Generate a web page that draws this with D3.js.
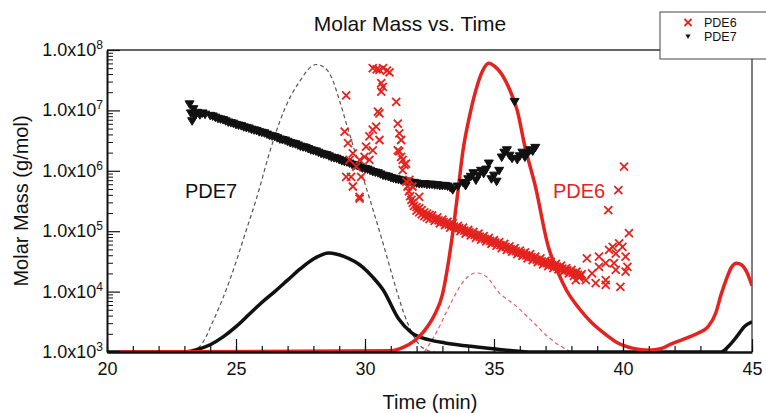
<!DOCTYPE html>
<html>
<head>
<meta charset="utf-8">
<script src="https://cdnjs.cloudflare.com/ajax/libs/d3/7.8.5/d3.min.js"></script>
<style>
	body { margin: 0; background: #fff; }
	svg { display: block; font-family: "Liberation Sans", Arial, sans-serif; }
</style>
</head>
<body>
<svg id="chart" width="766" height="413"></svg>
<script>
//=================== DATA ====================================
var timeTicks = [20, 25, 30, 35, 40, 45];
var massExponents = [3, 4, 5, 6, 7, 8];
var seriesNames = ["PDE6", "PDE7"];

// molar mass points, [time (min), log10 molar mass]
var pde7Points = [
	[23.2, 7.10], [23.25, 6.95], [23.3, 6.82], [23.35, 7.02], [23.4, 6.90], [23.5, 6.96], [23.6, 6.92],
	[23.7, 6.95], [23.8, 6.93], [24.0, 6.91], [24.1, 6.90], [24.2, 6.88], [24.3, 6.86], [24.4, 6.85],
	[24.5, 6.84], [24.6, 6.82], [24.7, 6.80], [24.8, 6.79], [24.9, 6.78], [25.0, 6.76], [25.1, 6.75],
	[25.2, 6.74], [25.3, 6.72], [25.4, 6.71], [25.5, 6.70], [25.6, 6.68], [25.7, 6.67], [25.8, 6.66],
	[25.9, 6.64], [26.0, 6.63], [26.1, 6.62], [26.2, 6.60], [26.3, 6.58], [26.4, 6.57], [26.5, 6.56],
	[26.6, 6.54], [26.7, 6.52], [26.8, 6.51], [26.9, 6.50], [27.0, 6.48], [27.1, 6.46], [27.2, 6.45],
	[27.3, 6.44], [27.4, 6.42], [27.5, 6.40], [27.6, 6.39], [27.7, 6.38], [27.8, 6.36], [27.9, 6.34],
	[28.0, 6.33], [28.1, 6.32], [28.2, 6.30], [28.3, 6.28], [28.4, 6.27], [28.5, 6.26], [28.6, 6.24],
	[28.7, 6.22], [28.8, 6.21], [28.9, 6.20], [29.0, 6.18], [29.1, 6.16], [29.2, 6.15], [29.3, 6.14],
	[29.4, 6.12], [29.5, 6.10], [29.6, 6.09], [29.7, 6.08], [29.8, 6.06], [29.9, 6.04], [30.0, 6.03],
	[30.1, 6.02], [30.2, 6.00], [30.3, 5.98], [30.4, 5.97], [30.5, 5.96], [30.6, 5.94], [30.7, 5.92],
	[30.8, 5.91], [30.9, 5.90], [31.0, 5.88], [31.1, 5.87], [31.2, 5.86], [31.3, 5.85], [31.4, 5.84],
	[31.5, 5.83], [31.6, 5.82], [31.7, 5.81], [31.8, 5.80], [31.9, 5.80], [32.0, 5.79], [32.1, 5.78],
	[32.2, 5.78], [32.3, 5.78], [32.4, 5.77], [32.5, 5.77], [32.6, 5.77], [32.7, 5.76], [32.8, 5.76],
	[32.9, 5.75], [33.0, 5.75], [33.1, 5.75], [33.2, 5.74], [33.3, 5.72], [33.4, 5.68], [33.6, 5.74],
	[33.8, 5.80], [33.9, 5.75], [34.0, 5.86], [34.1, 5.90], [34.2, 5.96], [34.3, 5.84], [34.4, 5.92],
	[34.5, 6.00], [34.6, 5.95], [34.7, 6.02], [34.8, 6.12], [34.9, 5.86], [35.0, 5.92], [35.1, 5.82],
	[35.2, 6.00], [35.3, 6.22], [35.4, 6.30], [35.5, 6.34], [35.6, 6.25], [35.7, 6.20], [35.8, 7.14],
	[35.9, 6.18], [36.0, 6.24], [36.1, 6.30], [36.2, 6.22], [36.3, 6.28], [36.4, 6.34], [36.5, 6.32],
	[36.6, 6.38]
];

var pde6Points = [
	// early scatter
	[29.27, 7.25], [29.21, 6.65], [29.34, 6.46], [29.53, 6.29], [29.40, 6.18], [29.66, 6.07], [29.79, 6.18],
	[29.46, 5.90], [29.27, 5.90], [29.85, 5.90], [29.53, 5.74], [29.79, 5.57], [29.79, 5.54], [30.04, 6.40],
	[30.17, 6.57], [30.30, 6.68], [30.43, 6.73], [30.56, 6.95], [30.17, 6.18], [29.98, 6.23], [30.30, 6.34],
	[30.56, 6.51], [30.50, 6.98], [30.69, 7.39], [30.63, 7.31], [30.63, 7.45], [30.30, 7.70], [30.45, 7.68],
	[30.56, 7.67], [30.70, 7.70], [30.85, 7.66], [30.95, 7.63], [31.21, 7.14], [31.27, 6.78], [31.33, 6.62],
	[31.40, 6.51], [31.33, 6.32], [31.27, 6.34], [31.40, 6.23], [31.46, 6.18], [31.53, 6.10], [31.46, 6.01],
	[31.59, 6.12], [31.72, 5.85], [31.84, 5.74], [32.10, 5.57],
	// dense band
	[31.60, 5.82], [31.65, 5.74], [31.70, 5.66], [31.75, 5.58], [31.80, 5.52], [31.85, 5.47], [31.90, 5.42],
	[32.00, 5.40], [32.00, 5.34], [32.10, 5.38], [32.10, 5.31], [32.20, 5.35], [32.20, 5.28], [32.30, 5.31],
	[32.30, 5.25], [32.40, 5.29], [32.40, 5.23], [32.50, 5.27], [32.50, 5.20],
	[32.6, 5.26], [32.7, 5.17], [32.8, 5.23], [32.9, 5.13], [33.0, 5.19], [33.1, 5.10], [33.2, 5.16],
	[33.3, 5.06], [33.4, 5.13], [33.5, 5.03], [33.6, 5.09], [33.7, 5.00], [33.8, 5.06], [33.9, 4.96],
	[34.0, 5.02], [34.1, 4.93], [34.2, 4.99], [34.3, 4.89], [34.4, 4.96], [34.5, 4.86], [34.6, 4.92],
	[34.7, 4.83], [34.8, 4.89], [34.9, 4.79], [35.0, 4.85], [35.1, 4.76], [35.2, 4.82], [35.3, 4.72],
	[35.4, 4.79], [35.5, 4.69], [35.6, 4.75], [35.7, 4.66], [35.8, 4.72], [35.9, 4.62], [36.0, 4.68],
	[36.1, 4.59], [36.2, 4.65], [36.3, 4.55], [36.4, 4.62], [36.5, 4.52], [36.6, 4.58], [36.7, 4.49],
	[36.8, 4.55], [36.9, 4.45], [37.0, 4.51], [37.1, 4.42], [37.2, 4.49], [37.3, 4.39], [37.4, 4.46],
	[37.5, 4.37], [37.6, 4.43], [37.7, 4.33], [37.8, 4.39], [37.9, 4.30], [38.0, 4.36], [38.1, 4.26],
	[38.2, 4.33], [38.3, 4.23], [38.4, 4.29],
	[32.65, 5.21], [32.75, 5.20], [32.85, 5.18], [32.95, 5.16], [33.05, 5.15], [33.15, 5.13], [33.25, 5.11],
	[33.35, 5.10], [33.45, 5.08], [33.55, 5.06], [33.65, 5.05], [33.75, 5.03], [33.85, 5.01], [33.95, 4.99],
	[34.05, 4.98], [34.15, 4.96], [34.25, 4.94], [34.35, 4.93], [34.45, 4.91], [34.55, 4.89], [34.65, 4.87],
	[34.75, 4.86], [34.85, 4.84], [34.95, 4.82], [35.05, 4.81], [35.15, 4.79], [35.25, 4.77], [35.35, 4.76],
	[35.45, 4.74], [35.55, 4.72], [35.65, 4.70], [35.75, 4.69], [35.85, 4.67], [35.95, 4.65], [36.05, 4.64],
	[36.15, 4.62], [36.25, 4.60], [36.35, 4.58], [36.45, 4.57], [36.55, 4.55], [36.65, 4.53], [36.75, 4.52],
	[36.85, 4.50], [36.95, 4.48], [37.05, 4.47], [37.15, 4.45], [37.25, 4.44], [37.35, 4.43], [37.45, 4.41],
	[37.55, 4.40], [37.65, 4.38], [37.75, 4.36], [37.85, 4.35], [37.95, 4.33], [38.05, 4.31], [38.15, 4.30],
	[38.25, 4.28], [38.35, 4.26],
	// tail scatter
	[38.17, 4.19], [38.30, 4.25], [38.56, 4.19], [38.60, 4.55], [38.80, 4.30], [38.94, 4.14], [39.07, 4.58],
	[39.07, 4.41], [39.33, 4.47], [39.33, 4.19], [39.33, 4.11], [39.46, 4.69], [39.60, 4.74], [39.65, 4.47],
	[39.72, 4.63], [39.72, 4.36], [39.85, 4.80], [39.90, 4.08], [39.98, 4.74], [40.10, 4.58], [40.17, 4.41],
	[40.10, 4.33], [40.23, 4.97], [39.43, 5.35], [39.82, 5.68], [40.04, 6.07]
];

// detector traces drawn on the same axes, [time (min), log10 value]
var pde7RiTrace = [
	[20, 3.0], [23.0, 3.0], [23.4, 3.03], [24.0, 3.12], [24.5, 3.25], [25.0, 3.42], [25.5, 3.62],
	[26.0, 3.82], [26.5, 4.0], [27.0, 4.19], [27.5, 4.38], [28.0, 4.54], [28.6, 4.64], [29.2, 4.58],
	[29.9, 4.41], [30.3, 4.24], [30.7, 4.03], [31.3, 3.55], [31.8, 3.32], [32.5, 3.2], [33.1, 3.15],
	[34.4, 3.08], [35.5, 3.03], [36.5, 3.0], [43.8, 3.0], [44.1, 3.1], [44.4, 3.25], [44.7, 3.42], [45, 3.5]
];
var pde7LsTrace = [
	[23.3, 3.0], [23.7, 3.15], [24.1, 3.5], [24.5, 3.9], [24.8, 4.24], [25.1, 4.62], [25.4, 5.02],
	[25.8, 5.55], [26.3, 6.3], [26.7, 6.82], [27.1, 7.22], [27.5, 7.5], [27.8, 7.68], [28.1, 7.76],
	[28.4, 7.72], [28.7, 7.55], [29.0, 7.18], [29.3, 6.75], [29.6, 6.33], [29.9, 5.92], [30.3, 5.37],
	[30.7, 4.8], [31.1, 4.2], [31.5, 3.65], [31.9, 3.25], [32.3, 3.05], [32.7, 3.0]
];
var pde6RiTrace = [
	[20.5, 3.0], [31.0, 3.02], [31.5, 3.08], [31.9, 3.18], [32.3, 3.35], [32.7, 3.62], [33.0, 3.95],
	[33.2, 4.4], [33.4, 4.97], [33.6, 5.65], [33.8, 6.34], [34.05, 6.9], [34.3, 7.34], [34.55, 7.65],
	[34.8, 7.78], [35.05, 7.72], [35.3, 7.6], [35.6, 7.35], [35.9, 7.0], [36.2, 6.4], [36.6, 5.75],
	[37.1, 4.75], [37.5, 4.3], [37.8, 4.03], [38.3, 3.72], [38.8, 3.48], [39.3, 3.3], [39.8, 3.15],
	[40.4, 3.06], [41.0, 3.03], [41.5, 3.06], [41.9, 3.14], [42.4, 3.22], [42.9, 3.31], [43.3, 3.42],
	[43.6, 3.65], [43.8, 3.95], [44.0, 4.2], [44.2, 4.4], [44.4, 4.47], [44.6, 4.44], [44.8, 4.32], [45.0, 4.1]
];
var pde6LsTrace = [
	[32.3, 3.0], [32.8, 3.35], [33.2, 3.7], [33.6, 4.03], [34.0, 4.25], [34.3, 4.31], [34.7, 4.25],
	[35.2, 3.98], [35.8, 3.78], [36.5, 3.5], [37.1, 3.25], [37.5, 3.12], [38.0, 3.0]
];

//=================== PRIVATE VARIABLES ====================================
var red = "#e3231f";
var plotLeft = 107, plotRight = 752, plotTop = 50, plotBottom = 352;

var svg = d3.select("#chart");

var xScale = d3.scaleLinear()
	.domain([20, 45])
	.range([plotLeft, plotRight]);

var yScale = d3.scaleLog()
	.domain([1e3, 1e8])
	.range([plotBottom, plotTop]);

var px = function (d) { return xScale(d[0]) };
var py = function (d) { return yScale(Math.pow(10, d[1])) };

var crossPath = "M-4,-4L4,4M4,-4L-4,4";
var trianglePath = "M-4.5,-3.5L4.5,-3.5L0,4Z";

//=================== RENDER ====================================
svg.append("defs").append("clipPath")
	.attr("id", "plotClip")
	.append("rect")
	.attr("x", plotLeft).attr("y", plotTop)
	.attr("width", plotRight - plotLeft).attr("height", plotBottom - plotTop);

drawFrame();
drawTraces();
drawPoints();
drawAxes();
drawLegend();

function drawTraces() {
	var grp = svg.append("g").attr("clip-path", "url(#plotClip)");
	var line = d3.line().x(px).y(py).curve(d3.curveMonotoneX);

	grp.append("path").datum(pde7LsTrace)
		.attr("d", line)
		.attr("fill", "none").attr("stroke", "#555")
		.attr("stroke-width", 1.2).attr("stroke-dasharray", "4,3");

	grp.append("path").datum(pde6LsTrace)
		.attr("d", line)
		.attr("fill", "none").attr("stroke", "#e06070")
		.attr("stroke-width", 1.2).attr("stroke-dasharray", "4,3");

	grp.append("path").datum(pde7RiTrace)
		.attr("d", line)
		.attr("fill", "none").attr("stroke", "#111")
		.attr("stroke-width", 3.5);

	grp.append("path").datum(pde6RiTrace)
		.attr("d", line)
		.attr("fill", "none").attr("stroke", red)
		.attr("stroke-width", 3.5);
}

function drawPoints() {
	svg.append("g").selectAll("path")
		.data(pde7Points)
		.enter().append("path")
		.attr("d", trianglePath)
		.attr("transform", function (d) { return "translate(" + [px(d), py(d)] + ")" })
		.attr("fill", "#111").attr("stroke", "#111")
		.attr("stroke-width", 1).attr("stroke-linejoin", "round");

	svg.append("g").selectAll("path")
		.data(pde6Points)
		.enter().append("path")
		.attr("d", crossPath)
		.attr("transform", function (d) { return "translate(" + [px(d), py(d)] + ")" })
		.attr("fill", "none").attr("stroke", red)
		.attr("stroke-width", 1.8);
}

function drawFrame() {
	svg.append("line")
		.attr("x1", plotLeft).attr("x2", 660)
		.attr("y1", plotTop).attr("y2", plotTop)
		.attr("stroke", "#666").attr("stroke-width", 2);
	svg.append("line")
		.attr("x1", plotRight).attr("x2", plotRight)
		.attr("y1", 59).attr("y2", plotBottom)
		.attr("stroke", "#555").attr("stroke-width", 1.5);

	svg.append("text")
		.attr("x", 410).attr("y", 31)
		.attr("text-anchor", "middle")
		.style("font-size", "21px").attr("fill", "#111")
		.text("Molar Mass vs. Time");

	svg.append("text")
		.attr("x", 430).attr("y", 409)
		.attr("text-anchor", "middle")
		.style("font-size", "20px").attr("fill", "#111")
		.text("Time (min)");

	svg.append("text")
		.attr("transform", "translate(28,201)rotate(-90)")
		.attr("text-anchor", "middle")
		.style("font-size", "20px").attr("fill", "#111")
		.text("Molar Mass (g/mol)");

	svg.append("text")
		.attr("x", 185).attr("y", 198)
		.style("font-size", "20px").attr("fill", "#111")
		.text("PDE7");

	svg.append("text")
		.attr("x", 553).attr("y", 198)
		.style("font-size", "20px").attr("fill", red)
		.text("PDE6");
}

function drawAxes() {
	// x minor ticks
	svg.append("g")
		.attr("transform", "translate(0," + plotBottom + ")")
		.call(d3.axisBottom(xScale).tickValues(d3.range(20, 46, 1)).tickSize(-6).tickFormat(""))
		.call(function (g) { g.select(".domain").remove() })
		.selectAll("line").attr("stroke", "#111").attr("stroke-width", 1.2);

	var xAxis = svg.append("g")
		.attr("transform", "translate(0," + plotBottom + ")")
		.call(d3.axisBottom(xScale).tickValues(timeTicks).tickSize(-13).tickSizeOuter(0).tickPadding(10));
	xAxis.select(".domain").attr("stroke", "#111").attr("stroke-width", 2.5);
	xAxis.selectAll("line").attr("stroke", "#111").attr("stroke-width", 1.2);
	xAxis.selectAll("text").style("font-size", "18px").attr("fill", "#111").attr("font-family", null);

	// y minor ticks
	var minor = [];
	massExponents.forEach(function (e) {
		if (e < 8) d3.range(2, 10).forEach(function (m) { minor.push(m * Math.pow(10, e)) });
	});
	svg.append("g")
		.attr("transform", "translate(" + plotLeft + ",0)")
		.call(d3.axisLeft(yScale).tickValues(minor).tickSize(-6).tickFormat(""))
		.call(function (g) { g.select(".domain").remove() })
		.selectAll("line").attr("stroke", "#111").attr("stroke-width", 1);

	var yAxis = svg.append("g")
		.attr("transform", "translate(" + plotLeft + ",0)")
		.call(d3.axisLeft(yScale)
			.tickValues(massExponents.map(function (e) { return Math.pow(10, e) }))
			.tickSize(-13).tickSizeOuter(0).tickFormat(""));
	yAxis.select(".domain").attr("stroke", "#111").attr("stroke-width", 2);
	yAxis.selectAll("line").attr("stroke", "#111").attr("stroke-width", 1.2);

	var labels = svg.append("g").selectAll("text")
		.data(massExponents)
		.enter().append("text")
		.attr("x", 103)
		.attr("y", function (e) { return yScale(Math.pow(10, e)) + 6 })
		.attr("text-anchor", "end")
		.style("font-size", "18px").attr("fill", "#111");
	labels.append("tspan").text("1.0x10");
	labels.append("tspan")
		.attr("dy", -7).style("font-size", "12px")
		.text(function (e) { return e });
}

function drawLegend() {
	var grp = svg.append("g");
	grp.append("rect")
		.attr("x", 660).attr("y", 12)
		.attr("width", 110).attr("height", 47)
		.attr("fill", "#fff").attr("stroke", "#444").attr("stroke-width", 1);

	grp.append("path")
		.attr("d", "M-3.5,-3.5L3.5,3.5M3.5,-3.5L-3.5,3.5")
		.attr("transform", "translate(688,22.5)")
		.attr("fill", "none").attr("stroke", red).attr("stroke-width", 1.8);
	grp.append("path")
		.attr("d", "M-2.5,-2L2.5,-2L0,2.5Z")
		.attr("transform", "translate(688,36.5)")
		.attr("fill", "#111");

	grp.selectAll("text.leg")
		.data(seriesNames)
		.enter().append("text")
		.attr("class", "leg")
		.attr("x", 704)
		.attr("y", function (d, i) { return 27 + i * 14 })
		.style("font-size", "12.5px").attr("fill", "#111")
		.text(function (d) { return d });
}
</script>
</body>
</html>
